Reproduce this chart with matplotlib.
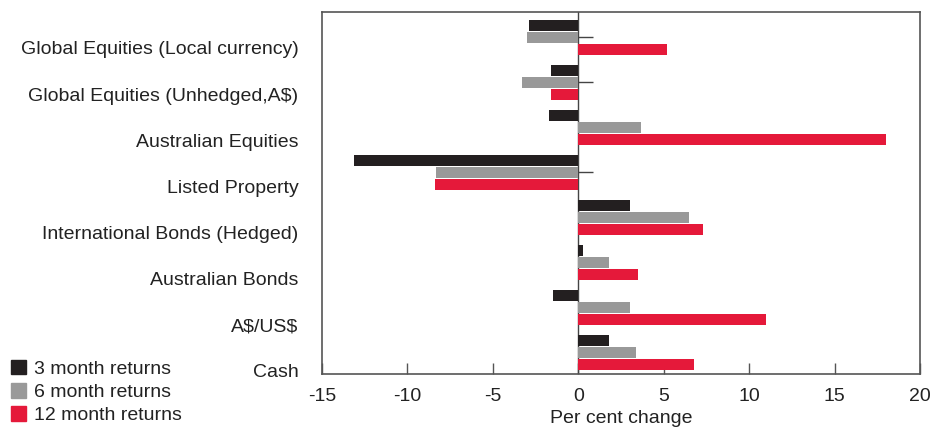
import numpy as np
import matplotlib
matplotlib.use('Agg')
from matplotlib import pyplot as plt
from matplotlib.patches import Patch

plt.rcParams['font.family'] = ['Liberation Sans', 'DejaVu Sans']
plt.rcParams['axes.unicode_minus'] = False

categories = ['Global Equities (Local currency)', 'Global Equities (Unhedged,A\\$)',
              'Australian Equities', 'Listed Property', 'International Bonds (Hedged)',
              'Australian Bonds', 'A\\$/US\\$', 'Cash']
ret_3m = [-2.9, -1.6, -1.7, -13.1, 3.0, 0.3, -1.5, 1.8]
ret_6m = [-3.0, -3.3, 3.7, -8.3, 6.5, 1.8, 3.0, 3.4]
ret_12m = [5.2, -1.6, 18.0, -8.4, 7.3, 3.5, 11.0, 6.8]
series_names = ['3 month returns', '6 month returns', '12 month returns']
colors = ['#231f20', '#999999', '#e5193a']

fig = plt.figure(figsize=(9.49, 4.28), dpi=100)
ax = fig.add_axes([0.3393, 0.1262, 0.6301, 0.8458])

y = np.arange(len(categories))
pitch = 0.267
h = 0.244
for k, vals in enumerate([ret_3m, ret_6m, ret_12m]):
    ax.barh(y + (k - 1) * pitch, vals, height=h, color=colors[k], zorder=3)

# small ticks on the zero line, behind the bars
ax.hlines(y, 0, 0.88, color='#444444', lw=1, zorder=1)
ax.axvline(0, color='#444444', lw=1, zorder=2)

ax.set_xlim(-15, 20)
ax.set_ylim(7.478, -0.567)
ax.set_xticks(np.arange(-15, 21, 5))
ax.tick_params(axis='x', direction='in', length=8, width=1, color='#555555',
               labelsize=14, pad=10, labelcolor='#222222')

# category labels sit a little lower than the groups
label_pos = 0.233 + 1.0254 * y
ax.set_yticks(label_pos)
ax.set_yticklabels(categories, fontsize=14, color='#222222')
ax.tick_params(axis='y', length=0, pad=17)

for s in ax.spines.values():
    s.set_color('#555555')
    s.set_linewidth(1.2)

ax.set_xlabel('Per cent change', fontsize=14, color='#222222', labelpad=4)

handles = [Patch(color=c) for c in colors]
fig.legend(handles, series_names, loc='upper left', bbox_to_anchor=(0.003, 0.178),
           frameon=False, fontsize=14, handlelength=0.8, handleheight=0.8,
           handletextpad=0.4, labelspacing=0.25, borderaxespad=0.0,
           labelcolor='#222222')

fig.savefig('out.png', dpi=100)
